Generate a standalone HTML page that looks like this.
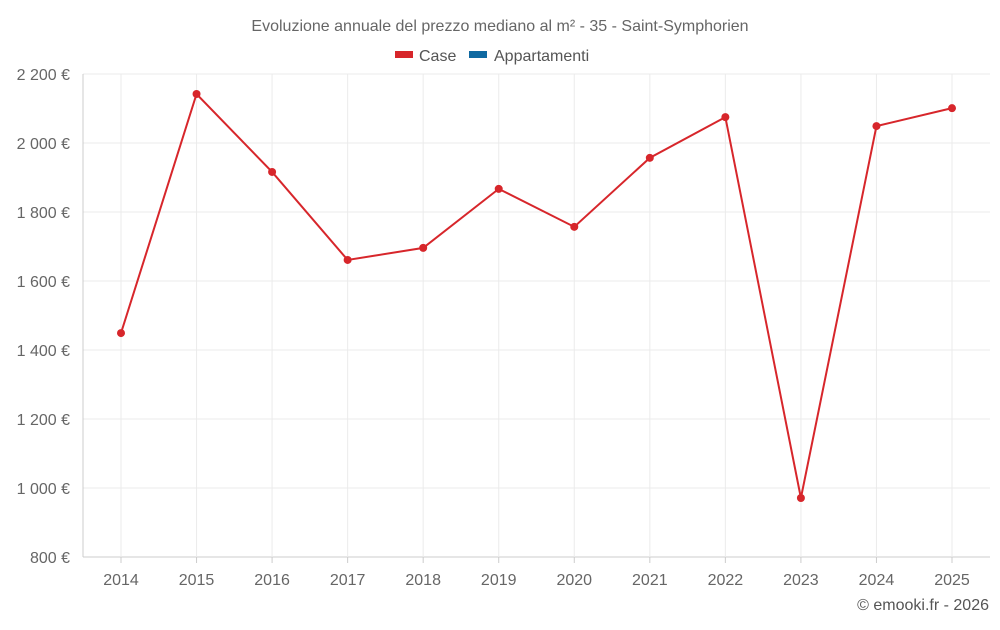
<!DOCTYPE html>
<html><head><meta charset="utf-8"><style>
body{margin:0;background:#fff;font-family:"Liberation Sans",sans-serif}
svg text{font-family:"Liberation Sans",sans-serif}
</style></head><body>
<svg id="chart" width="1000" height="625" xmlns="http://www.w3.org/2000/svg">
<text x="500" y="31" text-anchor="middle" font-size="16" fill="#666">Evoluzione annuale del prezzo mediano al m² - 35 - Saint-Symphorien</text>
<g>
<rect x="395" y="51" width="18" height="7" fill="#d7262b"/>
<text x="419" y="61" font-size="16" fill="#555">Case</text>
<rect x="469" y="51" width="18" height="7" fill="#0f69a1"/>
<text x="494" y="61" font-size="16" fill="#555">Appartamenti</text>
</g>
<g id="grid"></g><g id="axes"></g><g id="series"></g>
<text x="989" y="610" text-anchor="end" font-size="16" fill="#555">© emooki.fr - 2026</text>
</svg>
<script>
const years=["2014","2015","2016","2017","2018","2019","2020","2021","2022","2023","2024","2025"];
const caseValues=[1449,2142,1916,1661,1696,1867,1757,1957,2075,971,2049,2101];
const yTicks=[800,1000,1200,1400,1600,1800,2000,2200];
const yTickLabels=["800 €","1 000 €","1 200 €","1 400 €","1 600 €","1 800 €","2 000 €","2 200 €"];
const NS="http://www.w3.org/2000/svg";
const L=83,R=990,T=74,B=557,yMin=800,yMax=2200;
function x(i){return 121+i*(952-121)/(years.length-1);}
function y(v){return B-(v-yMin)/(yMax-yMin)*(B-T);}
function mk(tag,at,parent){const e=document.createElementNS(NS,tag);for(const k in at)e.setAttribute(k,at[k]);parent.appendChild(e);return e;}
const g=document.getElementById('grid'),ax=document.getElementById('axes'),s=document.getElementById('series');
yTicks.forEach((v,i)=>{
 const l=mk('line',{x1:L,x2:R,y1:y(v),y2:y(v),stroke:i==0?'#ccc':'#ebebeb'},g);
 
 
 const t=mk('text',{x:70,y:y(v)+6,'text-anchor':'end','font-size':16,fill:'#666'},ax);
 t.textContent=yTickLabels[i];
 
 
});
years.forEach((yr,i)=>{
 const l=mk('line',{x1:x(i),x2:x(i),y1:T,y2:B,stroke:'#ebebeb'},g);
 
 
 const tk=mk('line',{x1:x(i),x2:x(i),y1:B,y2:B+6,stroke:'#ccc'},ax);
 
 
 const t=mk('text',{x:x(i),y:585,'text-anchor':'middle','font-size':16,fill:'#666'},ax);
 t.textContent=yr;
 
 
});
const al=mk('line',{x1:L,x2:L,y1:T,y2:B,stroke:'#ccc'},ax);


const p=mk('polyline',{points:caseValues.map((v,i)=>x(i)+','+y(v)).join(' '),fill:'none',stroke:'#d7262b','stroke-width':2},s);


caseValues.forEach((v,i)=>{
 const c=mk('circle',{cx:x(i),cy:y(v),r:4,fill:'#d7262b'},s);
 
 
});
</script>
</body></html>
